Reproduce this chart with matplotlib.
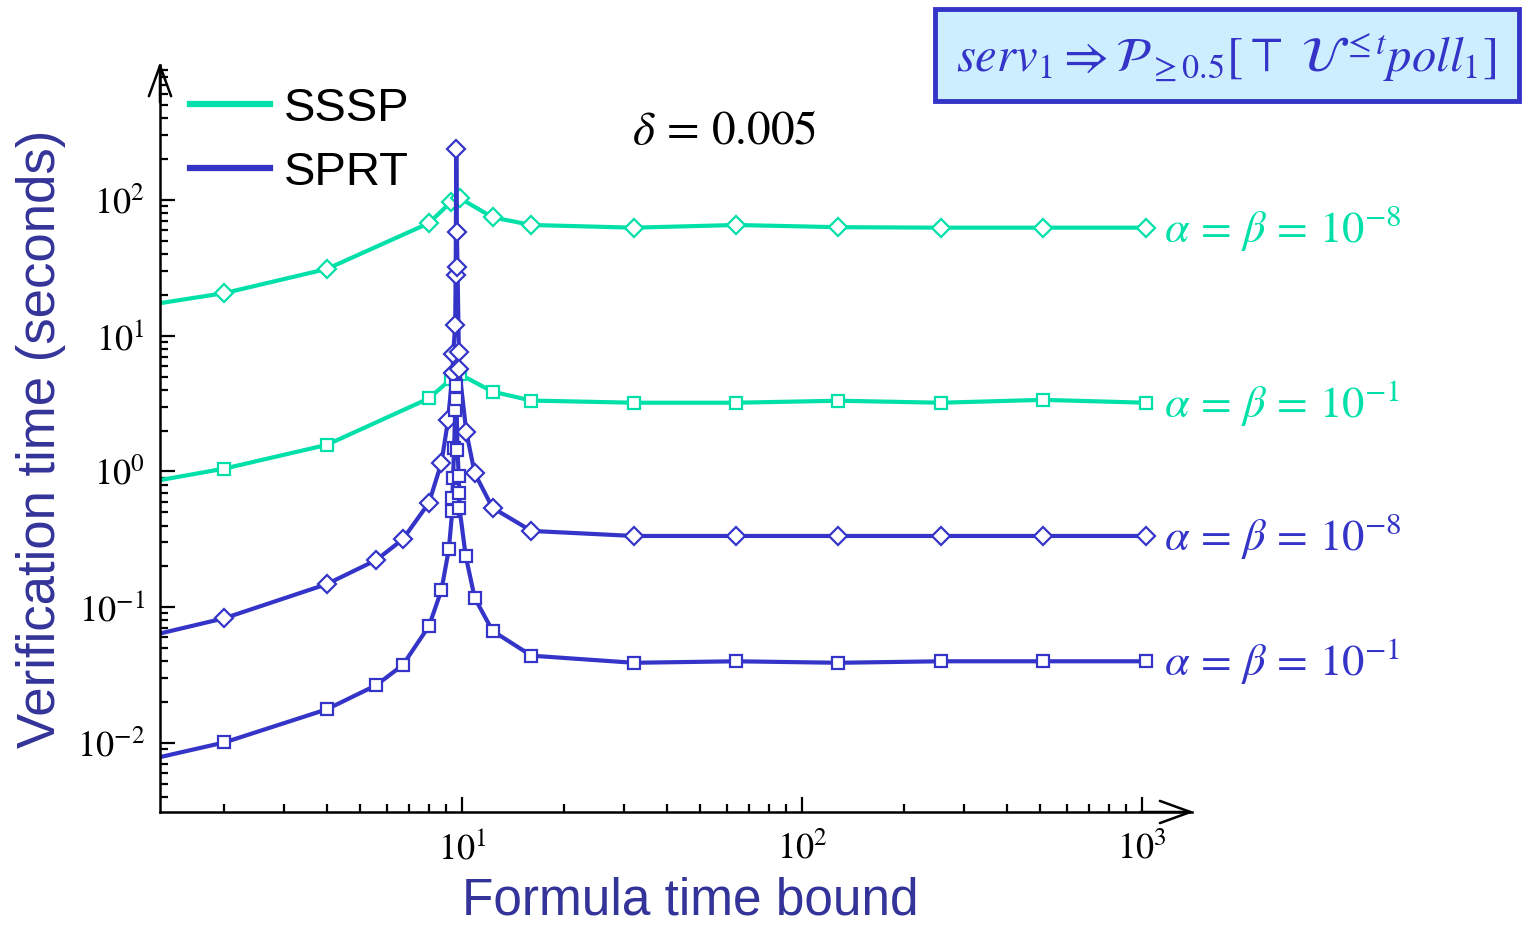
import numpy as np
import matplotlib
matplotlib.use("Agg")
import matplotlib.pyplot as plt
from matplotlib.lines import Line2D
from matplotlib.patches import Rectangle
from matplotlib.ticker import FuncFormatter, NullFormatter, LogLocator

plt.rcParams['mathtext.fontset'] = 'stix'
plt.rcParams['font.family'] = ['Liberation Sans', 'DejaVu Sans']

# ---------------------------------------------------------------------------
# data
# ---------------------------------------------------------------------------
sssp_e8_x = [1, 2, 4, 8, 9.28, 9.86, 12.3, 16, 32, 64, 128, 256, 512, 1024]
sssp_e8_y = [15.7, 20.6, 31, 67.6, 96.7, 103, 74.5, 65.4, 62.5, 65.4, 63.0, 62.5, 62.5, 62.5]

sssp_e1_x = [1, 2, 4, 8, 9.28, 9.86, 12.3, 16, 32, 64, 128, 256, 512, 1024]
sssp_e1_y = [0.77, 1.05, 1.57, 3.46, 4.8, 5.2, 3.87, 3.33, 3.21, 3.21, 3.32, 3.21, 3.37, 3.21]

sprt_e8_x = [1, 2, 4, 5.6, 6.7, 8, 8.7, 9.1, 9.38, 9.42, 9.55, 9.58, 9.62, 9.66,
             9.70, 9.79, 9.81, 10.3, 10.9, 12.3, 16, 32, 64, 128, 256, 512, 1024]
sprt_e8_y = [0.055, 0.083, 0.148, 0.223, 0.317, 0.59, 1.16, 2.39, 5.3, 7.3, 12.0, 28.2, 237, 58.5,
             32.3, 7.6, 5.66, 1.95, 0.97, 0.54, 0.365, 0.335, 0.335, 0.335, 0.335, 0.335, 0.335]

sprt_e1_x = [1, 2, 4, 5.6, 6.7, 8, 8.7, 9.15, 9.36, 9.37, 9.41, 9.48, 9.55, 9.6, 9.63,
             9.7, 9.78, 9.82, 9.83, 10.25, 10.9, 12.3, 16, 32, 64, 128, 256, 512, 1024]
sprt_e1_y = [0.0068, 0.0101, 0.0177, 0.0267, 0.0376, 0.0728, 0.134, 0.269, 0.51, 0.64, 0.89, 1.48,
             2.84, 4.27, 3.42, 1.44, 0.93, 0.70, 0.54, 0.24, 0.117, 0.067, 0.044,
             0.039, 0.040, 0.039, 0.040, 0.040, 0.040]

curve_labels = [r'$\alpha\,=\,\beta\,=\,10^{-8}$', r'$\alpha\,=\,\beta\,=\,10^{-1}$',
                r'$\alpha\,=\,\beta\,=\,10^{-8}$', r'$\alpha\,=\,\beta\,=\,10^{-1}$']
legend_names = ['SSSP', 'SPRT']

GREEN = '#00e0a8'
BLUE = '#3434c8'
LABEL_BLUE = '#333399'

# ---------------------------------------------------------------------------
fig = plt.figure(figsize=(15.23, 9.26), dpi=100)
ax = fig.add_axes([160 / 1523, 1 - 812 / 926, (1192 - 160) / 1523, (812 - 65) / 926])
ax.set_xscale('log')
ax.set_yscale('log')
ax.set_xlim(10 ** 0.1118, 10 ** 3.147)
ax.set_ylim(10 ** -2.508, 10 ** 2.994)

series = [
    (sssp_e8_x, sssp_e8_y, GREEN, 'D', 9.5),
    (sssp_e1_x, sssp_e1_y, GREEN, 's', 8.5),
    (sprt_e8_x, sprt_e8_y, BLUE, 'D', 9.5),
    (sprt_e1_x, sprt_e1_y, BLUE, 's', 8.5),
]
for (xs, ys, col, mk, ms), lab in zip(series, curve_labels):
    ax.plot(xs, ys, color=col, lw=3.0, marker=mk, ms=ms, mfc='white', mec=col, mew=1.6)
    ax.annotate(lab, xy=(xs[-1], ys[-1]), xytext=(13, 0), textcoords='offset points',
                va='center', ha='left', color=col, fontsize=32, annotation_clip=False)

# axes look: only left/bottom with arrow heads
for s in ['top', 'right']:
    ax.spines[s].set_visible(False)
for s in ['left', 'bottom']:
    ax.spines[s].set_linewidth(1.8)
arrow = dict(arrowstyle='->,head_length=1.1,head_width=0.4', lw=1.8, color='black',
             shrinkA=0, shrinkB=0, mutation_scale=20)
ax.annotate('', xy=(0, 1.004), xytext=(0, 0.95), xycoords='axes fraction', arrowprops=arrow,
            annotation_clip=False)
ax.annotate('', xy=(1.002, 0), xytext=(0.95, 0), xycoords='axes fraction', arrowprops=arrow,
            annotation_clip=False)

ax.xaxis.set_major_locator(LogLocator(base=10, numticks=10))
ax.yaxis.set_major_locator(LogLocator(base=10, numticks=10))
fmt = FuncFormatter(lambda v, p: r'$10^{%d}$' % int(round(np.log10(v))))
ax.xaxis.set_major_formatter(fmt)
ax.yaxis.set_major_formatter(fmt)
ax.xaxis.set_minor_formatter(NullFormatter())
ax.yaxis.set_minor_formatter(NullFormatter())
ax.tick_params(which='both', direction='in', top=False, right=False, width=1.6)
ax.tick_params(which='major', length=11, labelsize=26)
ax.tick_params(which='minor', length=6)
ax.tick_params(axis='y', pad=11)
ax.tick_params(axis='x', pad=14)

ax.set_xlabel('Formula time bound', fontsize=37, color=LABEL_BLUE)
ax.xaxis.set_label_coords((690 - 160) / 1032, -0.087)
ax.set_ylabel('Verification time (seconds)', fontsize=38, color=LABEL_BLUE)
ax.yaxis.set_label_coords(-(160 - 66) / 1032, 0.5)

handles = [Line2D([], [], color=GREEN, lw=4.5), Line2D([], [], color=BLUE, lw=4.5)]
fig.legend(handles, legend_names, loc='upper left', bbox_to_anchor=(190 / 1523, 1 - 87 / 926),
           frameon=False, fontsize=34, handlelength=1.7, handletextpad=0.28,
           borderpad=0, borderaxespad=0, labelspacing=0.42)

fig.text(724 / 1523, 1 - 132 / 926, r'$\delta\,=\,0.005$', fontsize=34, ha='center', va='center')

fig.add_artist(Rectangle((935 / 1523, 1 - 101 / 926), (1519 - 935) / 1523, 92 / 926,
                         transform=fig.transFigure, fc='#cceeff', ec=BLUE, lw=3.5))
fig.text(1226 / 1523, 1 - 57 / 926,
         r'$serv_1 \Rightarrow \mathcal{P}_{\geq 0.5}[\top\ \mathcal{U}^{\leq t} poll_1]$',
         fontsize=35, ha='center', va='center', color=BLUE)

fig.savefig('out.png', dpi=100)
